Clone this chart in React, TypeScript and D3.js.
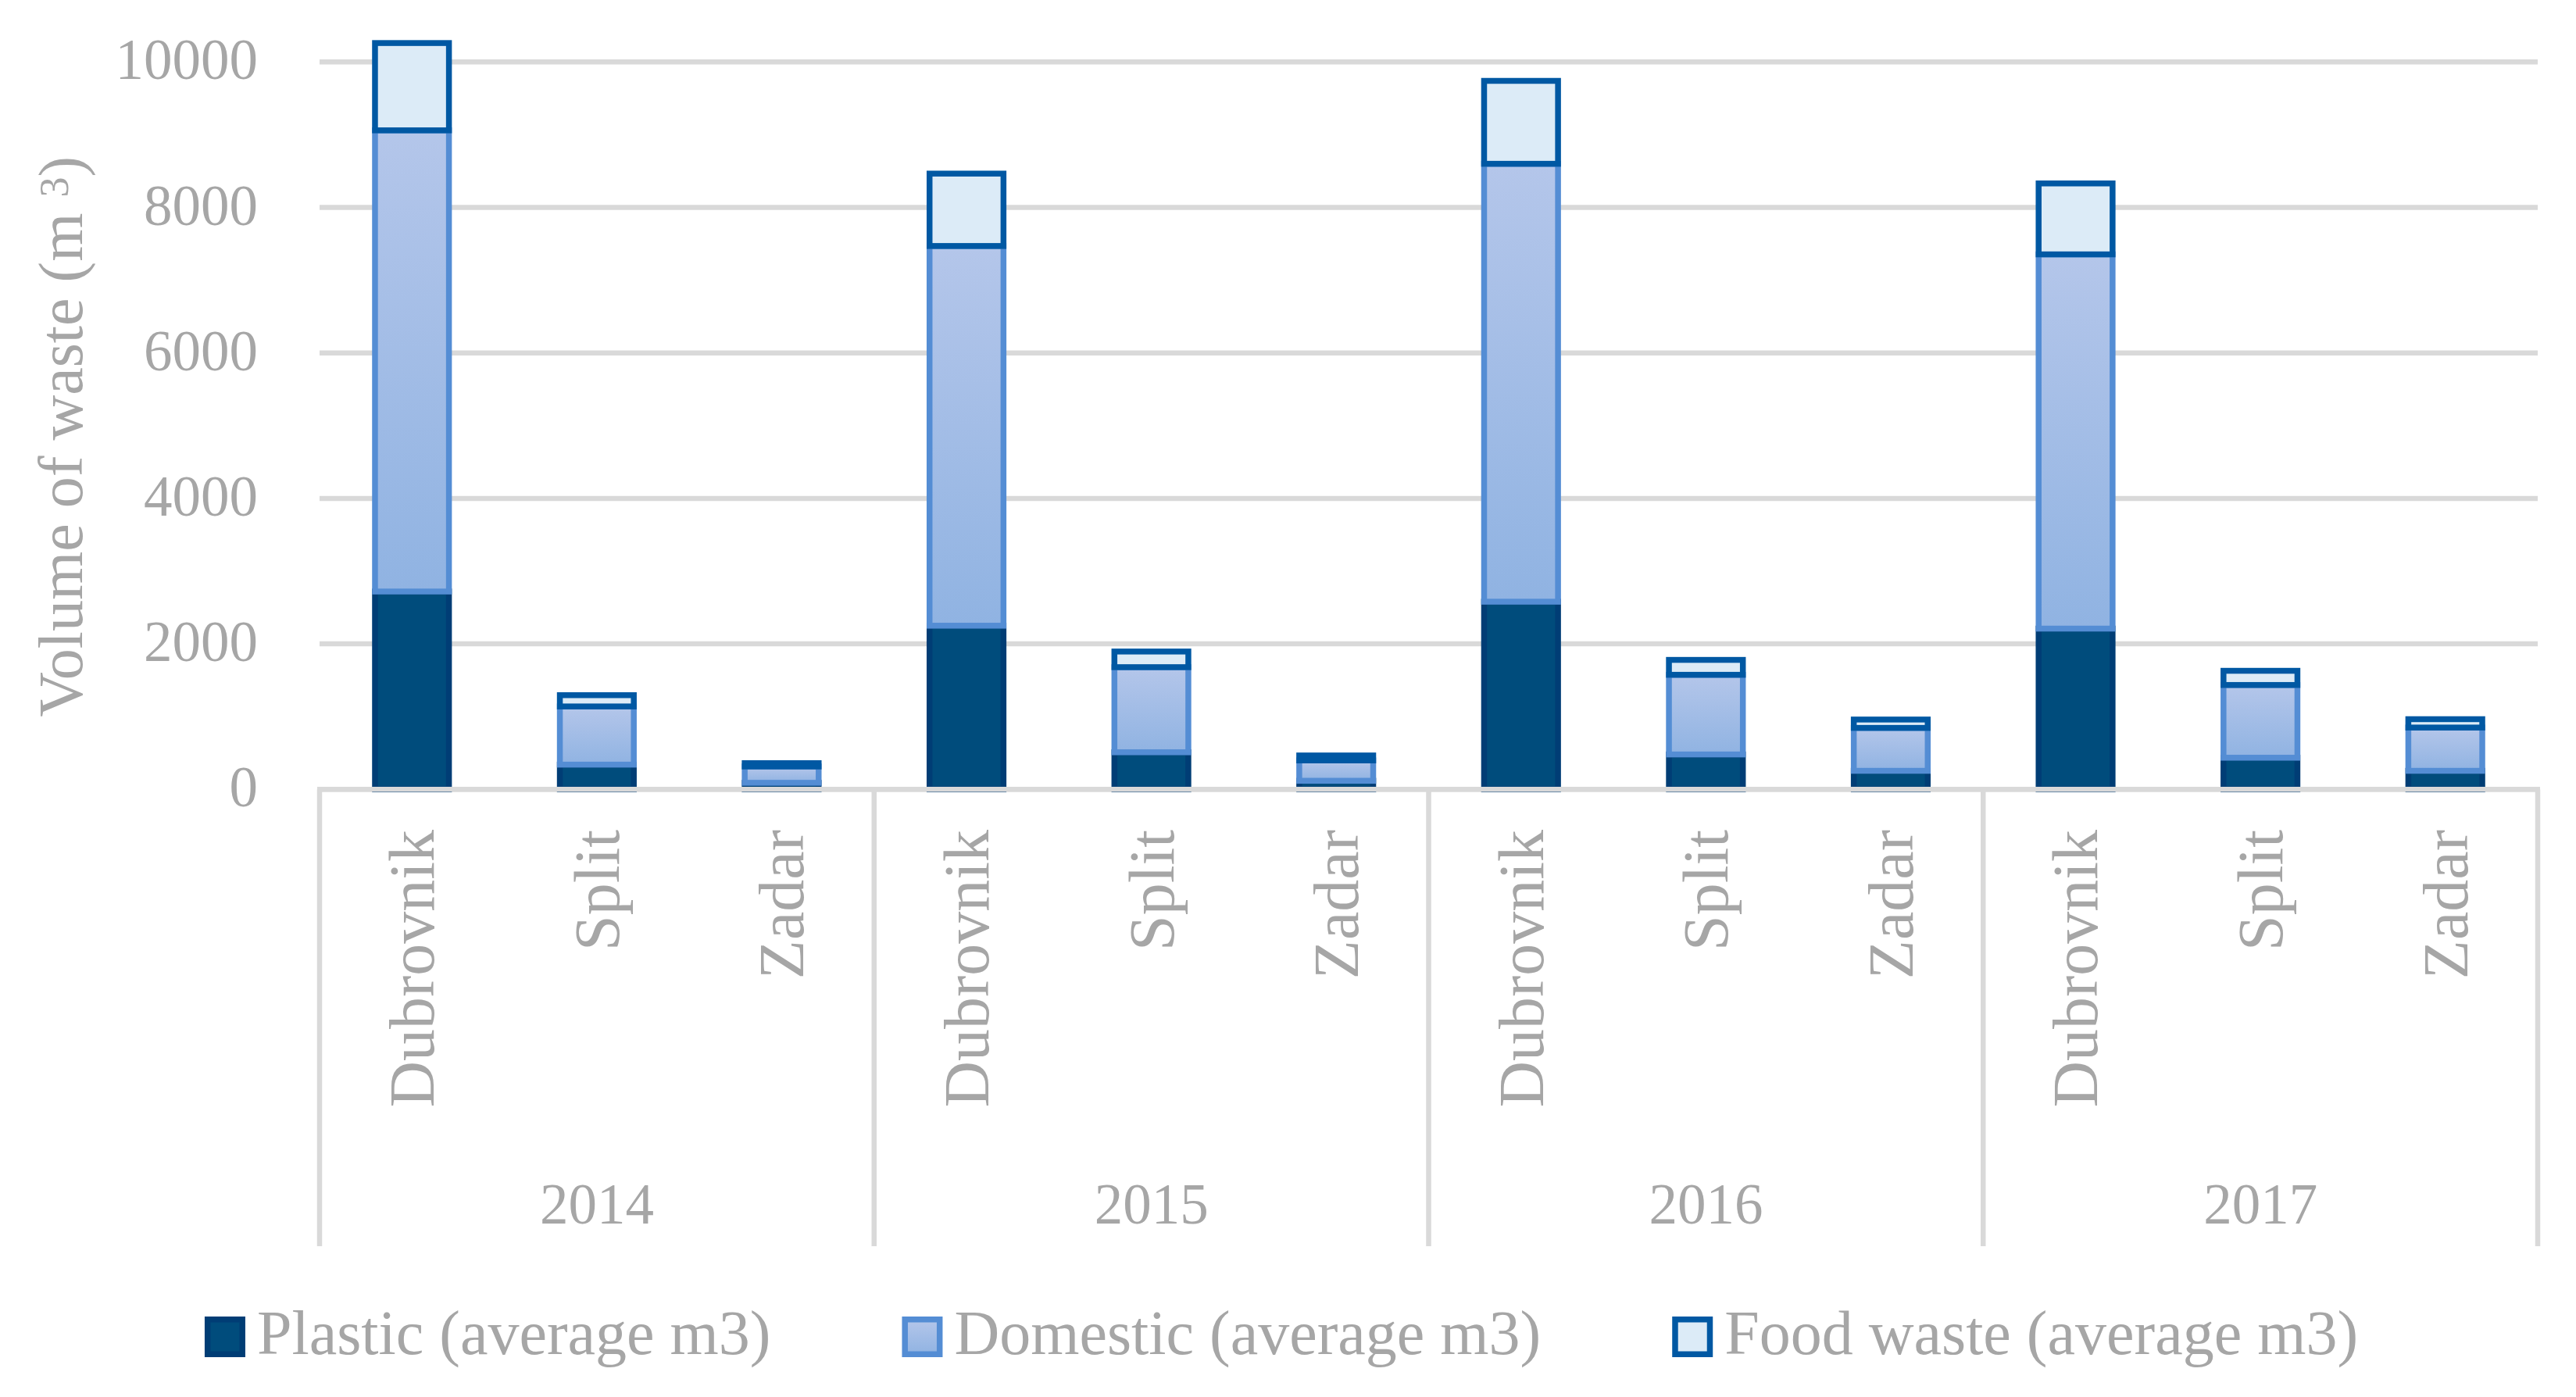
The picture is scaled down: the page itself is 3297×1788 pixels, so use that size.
import React, { useEffect, useRef } from 'react';
import * as d3 from 'd3';

const years = ['2014', '2015', '2016', '2017'];
const cities = ['Dubrovnik', 'Split', 'Zadar'];

// values per bar, in order 2014 Dubrovnik, Split, Zadar, 2015 ...
const plastic = [2720, 340, 90, 2250, 510, 118, 2580, 480, 255, 2210, 435, 255];
const domestic = [6340, 800, 225, 5220, 1170, 280, 6020, 1095, 590, 5145, 1000, 595];
const food = [1200, 155, 45, 995, 215, 68, 1140, 205, 115, 975, 195, 115];

const yTicks = [0, 2000, 4000, 6000, 8000, 10000];

const seriesNames = ['Plastic (average m3)', 'Domestic (average m3)', 'Food waste (average m3)'];
const seriesKeys = ['plastic', 'domestic', 'food'];

const W = 3297;
const H = 1788;
const TEXT = '#a6a6a6';
const GRID = '#d9d9d9';
const FONT = '"Liberation Serif", "Times New Roman", serif';

const fills = ['#004c7c', 'url(#domGrad)', '#dcebf7'];
const strokes = ['#003d75', '#548dd4', '#0058a3'];

const App: React.FC = () => {
  const svgRef = useRef<SVGSVGElement>(null);

  useEffect(() => {
    if (!svgRef.current) return;
    const svg = d3.select(svgRef.current);
    svg.selectAll('*').remove();

    const margin = { left: 409, right: W - 3248, top: 79.3, bottom: H - 1010.3 };

    const defs = svg.append('defs');
    const grad = defs.append('linearGradient')
      .attr('id', 'domGrad')
      .attr('x1', 0).attr('y1', 0).attr('x2', 0).attr('y2', 1);
    grad.append('stop').attr('offset', '0%').attr('stop-color', '#b4c6ea');
    grad.append('stop').attr('offset', '100%').attr('stop-color', '#90b3e2');

    const keys: string[] = [];
    years.forEach(y => cities.forEach(c => keys.push(`${y}|${c}`)));

    const rows = keys.map((k, i) => ({
      key: k,
      plastic: plastic[i],
      domestic: domestic[i],
      food: food[i]
    }));

    const x = d3.scaleBand<string>()
      .domain(keys)
      .range([margin.left, W - margin.right])
      .paddingInner(0.6)
      .paddingOuter(0.3);

    const y = d3.scaleLinear()
      .domain([0, 10000])
      .range([H - margin.bottom, margin.top]);

    // gridlines
    svg.append('g')
      .selectAll('line')
      .data(yTicks)
      .enter()
      .append('line')
      .attr('x1', margin.left)
      .attr('x2', W - margin.right)
      .attr('y1', d => y(d))
      .attr('y2', d => y(d))
      .attr('stroke', GRID)
      .attr('stroke-width', 6.5);

    // y tick labels
    svg.append('g')
      .selectAll('text')
      .data(yTicks)
      .enter()
      .append('text')
      .attr('x', 330)
      .attr('y', d => y(d) + 22)
      .attr('text-anchor', 'end')
      .style('font-family', FONT)
      .style('font-size', '73px')
      .attr('fill', TEXT)
      .text(d => String(d));

    // y axis title
    const title = svg.append('text')
      .attr('transform', `translate(105,${(y(0) + y(10000)) / 2 + 14}) rotate(-90)`)
      .attr('text-anchor', 'middle')
      .style('font-family', FONT)
      .style('font-size', '80px')
      .attr('fill', TEXT);
    title.append('tspan').text('Volume of waste (m ');
    title.append('tspan').attr('baseline-shift', '35%').style('font-size', '52px').text('3');
    title.append('tspan').text(')');

    // stacked bars
    const stack = d3.stack<any>().keys(seriesKeys);
    const stacked = stack(rows);
    const barW = x.bandwidth();

    stacked.forEach((layer, si) => {
      svg.append('g')
        .selectAll('rect')
        .data(layer)
        .enter()
        .append('rect')
        .attr('x', d => x(d.data.key) as number)
        .attr('width', barW)
        .attr('y', d => y(d[1]))
        .attr('height', d => Math.max(0, y(d[0]) - y(d[1])))
        .attr('fill', fills[si])
        .attr('stroke', strokes[si])
        .attr('stroke-width', 7.5);
    });

    // category axis: baseline line and group separators
    const groupW = (W - margin.right - margin.left) / years.length;
    svg.append('line')
      .attr('x1', margin.left - 3)
      .attr('x2', W - margin.right + 3)
      .attr('y1', y(0))
      .attr('y2', y(0))
      .attr('stroke', GRID)
      .attr('stroke-width', 6.5);

    svg.append('g')
      .selectAll('line')
      .data(d3.range(years.length + 1))
      .enter()
      .append('line')
      .attr('x1', i => margin.left + i * groupW)
      .attr('x2', i => margin.left + i * groupW)
      .attr('y1', y(0))
      .attr('y2', 1595)
      .attr('stroke', GRID)
      .attr('stroke-width', 6.5);

    // city labels (rotated)
    svg.append('g')
      .selectAll('text')
      .data(keys)
      .enter()
      .append('text')
      .attr('transform', k => `translate(${(x(k) as number) + barW / 2},1062) rotate(-90)`)
      .attr('text-anchor', 'end')
      .attr('dy', '0.34em')
      .style('font-family', FONT)
      .style('font-size', '82px')
      .attr('fill', TEXT)
      .text(k => k.split('|')[1]);

    // year labels
    svg.append('g')
      .selectAll('text')
      .data(years)
      .enter()
      .append('text')
      .attr('x', (_, i) => margin.left + (i + 0.5) * groupW)
      .attr('y', 1566)
      .attr('text-anchor', 'middle')
      .style('font-family', FONT)
      .style('font-size', '73px')
      .attr('fill', TEXT)
      .text(d => d);

    // legend
    const legend = svg.append('g');
    const sw = 52;
    const textGap = 15;
    const itemGap = 168;
    const items = seriesNames.map((name, i) => {
      const g = legend.append('g');
      g.append('rect')
        .attr('x', 3.75)
        .attr('y', 1688.75)
        .attr('width', sw - 7.5)
        .attr('height', sw - 7.5)
        .attr('fill', fills[i])
        .attr('stroke', strokes[i])
        .attr('stroke-width', 7.5);
      const t = g.append('text')
        .attr('x', sw + textGap)
        .attr('y', 1733)
        .style('font-family', FONT)
        .style('font-size', '80px')
        .attr('fill', TEXT)
        .text(name);
      const tw = (t.node() as SVGTextElement).getComputedTextLength();
      return { g, w: sw + textGap + tw };
    });
    const total = d3.sum(items, d => d.w) + itemGap * (items.length - 1);
    let cursor = 1640 - total / 2;
    items.forEach(it => {
      it.g.attr('transform', `translate(${cursor},0)`);
      cursor += it.w + itemGap;
    });
  }, []);

  return (
    <svg
      ref={svgRef}
      width={W}
      height={H}
      style={{ position: 'absolute', left: 0, top: 0, background: '#fff' }}
    />
  );
};

export default App;
